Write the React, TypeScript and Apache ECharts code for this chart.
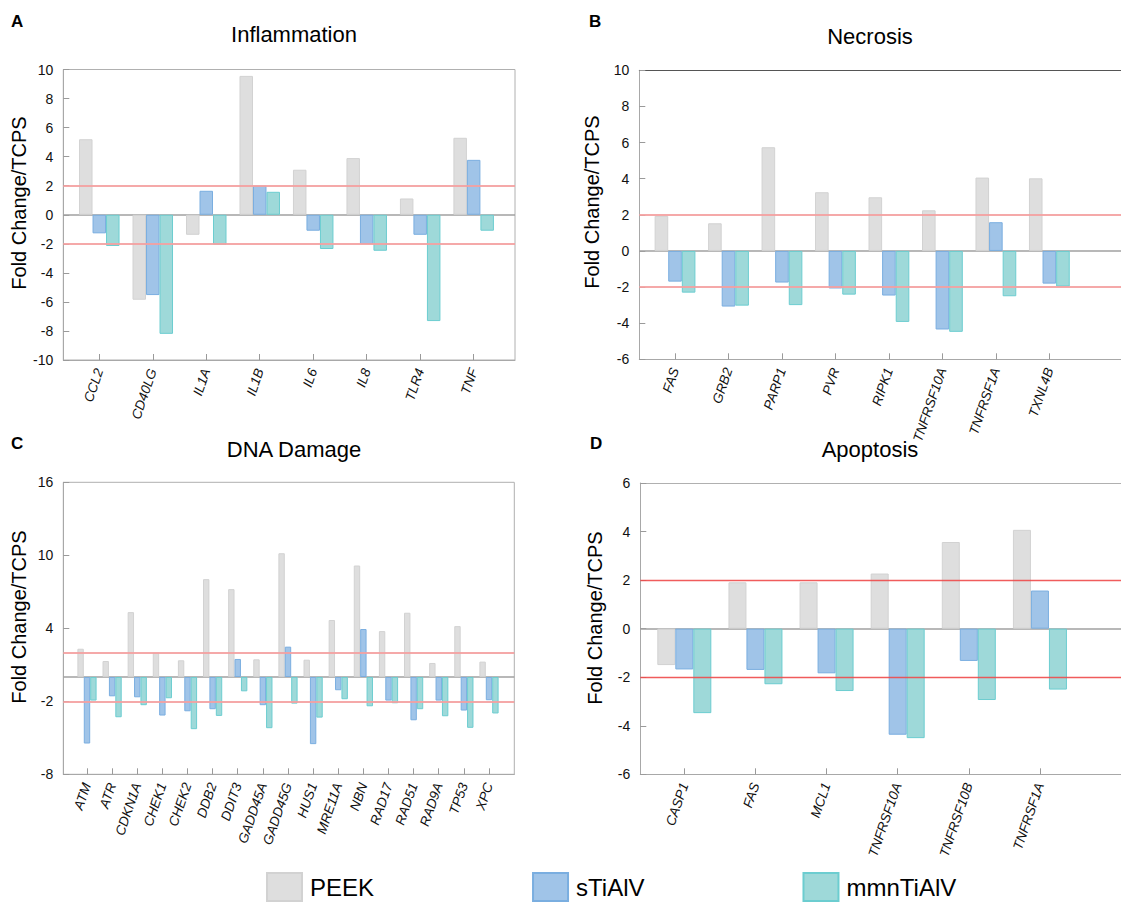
import React, { useEffect, useRef } from 'react';
import * as echarts from 'echarts';

const FONT = "'Liberation Sans', Arial, Helvetica, sans-serif";

const seriesNames = ['PEEK', 'sTiAlV', 'mmnTiAlV'];
const fillColors = ['#dedede', '#a0c4e8', '#9ed9d9'];
const borderColors = ['#d2d2d2', '#7aaee0', '#6ccdd0'];

// Panel A: Inflammation
const inflCats = ['CCL2', 'CD40LG', 'IL1A', 'IL1B', 'IL6', 'IL8', 'TLR4', 'TNF'];
const inflPEEK = [5.2, -5.85, -1.38, 9.56, 3.1, 3.9, 1.12, 5.3];
const inflSTi = [-1.28, -5.53, 1.65, 2.0, -1.1, -2.02, -1.38, 3.78];
const inflMmn = [-2.15, -8.2, -2.06, 1.58, -2.36, -2.48, -7.32, -1.1];
const inflTicks = [-10, -8, -6, -4, -2, 0, 2, 4, 6, 8, 10];

// Panel B: Necrosis
const necCats = ['FAS', 'GRB2', 'PARP1', 'PVR', 'RIPK1', 'TNFRSF10A', 'TNFRSF1A', 'TXNL4B'];
const necPEEK = [1.94, 1.53, 5.74, 3.25, 2.97, 2.25, 4.06, 4.02];
const necSTi = [-1.7, -3.08, -1.75, -2.08, -2.47, -4.35, 1.59, -1.81];
const necMmn = [-2.31, -3.03, -3.0, -2.42, -3.93, -4.48, -2.51, -1.97];
const necTicks = [-6, -4, -2, 0, 2, 4, 6, 8, 10];

// Panel C: DNA Damage
const dnaCats = ['ATM', 'ATR', 'CDKN1A', 'CHEK1', 'CHEK2', 'DDB2', 'DDIT3', 'GADD45A', 'GADD45G', 'HUS1', 'MRE11A', 'NBN', 'RAD17', 'RAD51', 'RAD9A', 'TP53', 'XPC'];
const dnaPEEK = [2.32, 1.31, 5.33, 2.0, 1.37, 8.04, 7.22, 1.45, 10.17, 1.42, 4.68, 9.16, 3.77, 5.28, 1.15, 4.18, 1.26];
const dnaSTi = [-5.47, -1.59, -1.67, -3.17, -2.82, -2.65, 1.48, -2.32, 2.49, -5.52, -1.09, 3.94, -1.94, -3.56, -1.94, -2.76, -1.91];
const dnaMmn = [-1.94, -3.31, -2.32, -1.75, -4.29, -3.2, -1.18, -4.21, -2.19, -3.34, -1.83, -2.41, -2.16, -2.65, -3.23, -4.18, -3.0];
const dnaTicks = [-8, -2, 4, 10, 16];

// Panel D: Apoptosis
const apoCats = ['CASP1', 'FAS', 'MCL1', 'TNFRSF10A', 'TNFRSF10B', 'TNFRSF1A'];
const apoPEEK = [-1.5, 1.91, 1.91, 2.27, 3.57, 4.07];
const apoSTi = [-1.68, -1.7, -1.84, -4.37, -1.33, 1.57];
const apoMmn = [-3.48, -2.29, -2.57, -4.51, -2.94, -2.51];
const apoTicks = [-6, -4, -2, 0, 2, 4, 6];

const thresholds = [2, -2];

type PanelCfg = {
  cats: string[];
  vals: number[][];
  yTicks: number[];
  grid: { left: number; top: number; right: number; bottom: number };
  xMin: number;
  xMax: number;
  barWidth: number;
  box: 'full' | 'top';
  topColor: string;
  redColor: string;
  redWidth: number;
};

const panels: PanelCfg[] = [
  {
    cats: inflCats, vals: [inflPEEK, inflSTi, inflMmn], yTicks: inflTicks,
    grid: { left: 63.3, top: 69.5, right: 606, bottom: 542 },
    xMin: -0.673, xMax: 7.773, barWidth: 13.5, box: 'full', topColor: '#b0b0b0',
    redColor: '#f4a0a0', redWidth: 1.8,
  },
  {
    cats: necCats, vals: [necPEEK, necSTi, necMmn], yTicks: necTicks,
    grid: { left: 639.3, top: 70.3, right: 0, bottom: 542.7 },
    xMin: -0.668, xMax: 8.34, barWidth: 13.6, box: 'top', topColor: '#555555',
    redColor: '#f4a0a0', redWidth: 1.8,
  },
  {
    cats: dnaCats, vals: [dnaPEEK, dnaSTi, dnaMmn], yTicks: dnaTicks,
    grid: { left: 63.3, top: 482.3, right: 606.7, bottom: 127.7 },
    xMin: -0.943, xMax: 17.007, barWidth: 6.4, box: 'full', topColor: '#b0b0b0',
    redColor: '#f4a0a0', redWidth: 1.8,
  },
  {
    cats: apoCats, vals: [apoPEEK, apoSTi, apoMmn], yTicks: apoTicks,
    grid: { left: 640.3, top: 483, right: 0, bottom: 127.7 },
    xMin: -0.619, xMax: 6.14, barWidth: 18, box: 'top', topColor: '#b0b0b0',
    redColor: '#ee4a4a', redWidth: 1.4,
  },
];

const titles = [
  { text: 'Inflammation', x: 289, y: 18 },
  { text: 'Necrosis', x: 865, y: 20 },
  { text: 'DNA Damage', x: 289, y: 433 },
  { text: 'Apoptosis', x: 865, y: 433 },
];
const letters = [
  { text: 'A', x: 11, y: 13 },
  { text: 'B', x: 589, y: 13 },
  { text: 'C', x: 11, y: 435 },
  { text: 'D', x: 590, y: 435 },
];
const yNames = [
  { x: 18.5, y: 203 },
  { x: 591.5, y: 202 },
  { x: 18.5, y: 617 },
  { x: 594.5, y: 618 },
];
const yAxisName = 'Fold Change/TCPS';

function buildOption() {
  const grids: any[] = [];
  const xAxes: any[] = [];
  const yAxes: any[] = [];
  const series: any[] = [];

  panels.forEach((p, i) => {
    grids.push({
      ...p.grid,
      containLabel: false,
      show: p.box === 'full',
      borderColor: '#b0b0b0',
      borderWidth: 1,
      backgroundColor: 'transparent',
    });
    const idx = p.cats.map((_, j) => j);
    const xi = xAxes.length;
    xAxes.push({
      type: 'value',
      gridIndex: i,
      min: p.xMin,
      max: p.xMax,
      splitLine: { show: false },
      axisLine: { show: true, onZero: false, lineStyle: { color: '#a8a8a8', width: 1 } },
      axisTick: { show: true, inside: true, length: 6, customValues: idx, lineStyle: { color: '#9a9a9a' } },
      axisLabel: {
        customValues: idx,
        formatter: (v: number) => p.cats[Math.round(v)] ?? '',
        rotate: 71,
        fontStyle: 'italic',
        fontSize: 13.5,
        fontFamily: FONT,
        color: '#111',
        margin: 9,
      },
    });
    if (p.box === 'top') {
      xAxes.push({
        type: 'value',
        gridIndex: i,
        position: 'top',
        min: p.xMin,
        max: p.xMax,
        splitLine: { show: false },
        axisLine: { show: true, onZero: false, lineStyle: { color: p.topColor, width: 1 } },
        axisTick: { show: false },
        axisLabel: { show: false },
      });
    }
    yAxes.push({
      type: 'value',
      gridIndex: i,
      min: p.yTicks[0],
      max: p.yTicks[p.yTicks.length - 1],
      splitLine: { show: false },
      axisLine: { show: true, onZero: false, lineStyle: { color: '#a8a8a8', width: 1 } },
      axisTick: { show: true, inside: true, length: 6, customValues: p.yTicks, lineStyle: { color: '#9a9a9a' } },
      axisLabel: {
        customValues: p.yTicks,
        fontSize: 14,
        fontFamily: FONT,
        color: '#111',
        margin: 10,
      },
    });

    p.vals.forEach((vals, k) => {
      const s: any = {
        type: 'bar',
        name: seriesNames[k],
        xAxisIndex: xi,
        yAxisIndex: i,
        data: vals.map((v, j) => [j, v]),
        barWidth: p.barWidth,
        barGap: '0%',
        itemStyle: { color: fillColors[k], borderColor: borderColors[k], borderWidth: 1 },
        emphasis: { disabled: true },
      };
      if (k === 0) {
        s.markLine = {
          silent: true,
          symbol: ['none', 'none'],
          label: { show: false },
          z: 1,
          lineStyle: { color: '#a0a0a0', width: 1.5, type: 'solid' },
          data: [{ yAxis: 0 }],
        };
      }
      if (k === 2) {
        s.markLine = {
          silent: true,
          symbol: ['none', 'none'],
          label: { show: false },
          lineStyle: { color: p.redColor, width: p.redWidth, type: 'solid', opacity: 0.9 },
          data: thresholds.map((t) => ({ yAxis: t })),
        };
      }
      series.push(s);
    });
  });

  const title = [
    ...titles.map((t) => ({
      text: t.text,
      left: t.x,
      top: t.y,
      textAlign: 'center',
      textStyle: { fontSize: 22, fontWeight: 'normal', fontFamily: FONT, color: '#000' },
    })),
    ...letters.map((t) => ({
      text: t.text,
      left: t.x,
      top: t.y,
      padding: 0,
      textStyle: { fontSize: 17, fontWeight: 'bold', fontFamily: FONT, color: '#000' },
    })),
  ];

  const graphic = yNames.map((n) => ({
    type: 'text',
    x: n.x,
    y: n.y,
    rotation: Math.PI / 2,
    style: {
      text: yAxisName,
      fontSize: 20,
      fontFamily: FONT,
      fill: '#000',
      textAlign: 'center',
      textVerticalAlign: 'middle',
    },
  }));

  return {
    animation: false,
    backgroundColor: '#ffffff',
    title,
    grid: grids,
    xAxis: xAxes,
    yAxis: yAxes,
    series,
    graphic,
    legend: {
      data: seriesNames,
      left: 266,
      top: 872,
      padding: 0,
      icon: 'rect',
      itemWidth: 35,
      itemHeight: 28,
      itemGap: 158,
      selectedMode: false,
      textStyle: { fontSize: 24, lineHeight: 22, fontFamily: FONT, color: '#000', padding: [2, 0, 0, 3] },
    },
  };
}

export default function App() {
  const ref = useRef<HTMLDivElement>(null);
  useEffect(() => {
    if (!ref.current) return;
    const chart = echarts.init(ref.current, undefined, { renderer: 'svg' });
    chart.setOption(buildOption() as any);
    return () => chart.dispose();
  }, []);
  return (
    <div
      ref={ref}
      style={{ position: 'fixed', left: 0, top: 0, width: 1121, height: 902, background: '#fff' }}
    />
  );
}
